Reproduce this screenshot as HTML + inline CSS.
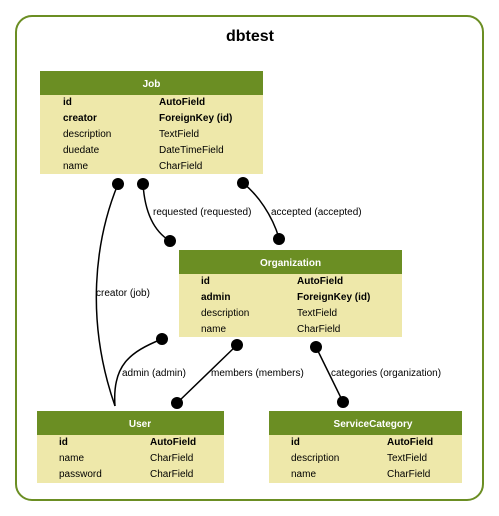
<!DOCTYPE html>
<html><head><meta charset="utf-8"><style>
html,body{margin:0;padding:0;background:#fff;}
svg{display:block;font-family:"Liberation Sans",Arial,sans-serif;}
.h{fill:#fff;font-weight:bold;font-size:10px;}
.t{font-size:10px;fill:#000;}
.b{font-weight:bold;}
.l{font-size:10px;fill:#000;}
</style></head><body>
<svg width="499" height="516" viewBox="0 0 499 516">
<rect x="16" y="16" width="467" height="484" rx="16" fill="#fff" stroke="#6b8e23" stroke-width="2"/>
<text x="250" y="41" text-anchor="middle" font-size="16" font-weight="bold">dbtest</text>

<!-- edges -->
<g fill="none" stroke="#000" stroke-width="1.5">
<path d="M118,184 C95,240 85,320 115,406"/>
<path d="M143,184 C145,215 155,232 170,241"/>
<path d="M243,183 C258,195 272,215 279,238"/>
<path d="M162,339 C130,352 112,365 115,406"/>
<path d="M237,345 L177,403"/>
<path d="M316,347 L343,402"/>
</g>
<g fill="#000">
<circle cx="118" cy="184" r="6"/><circle cx="143" cy="184" r="6"/><circle cx="243" cy="183" r="6"/>
<circle cx="170" cy="241" r="6"/><circle cx="279" cy="239" r="6"/>
<circle cx="162" cy="339" r="6"/><circle cx="237" cy="345" r="6"/><circle cx="316" cy="347" r="6"/>
<circle cx="177" cy="403" r="6"/><circle cx="343" cy="402" r="6"/>
</g>
<text class="l" x="96" y="296">creator (job)</text>
<text class="l" x="153" y="215">requested (requested)</text>
<text class="l" x="271" y="215">accepted (accepted)</text>
<text class="l" x="122" y="376">admin (admin)</text>
<text class="l" x="211" y="376">members (members)</text>
<text class="l" x="331" y="376">categories (organization)</text>

<!-- Job -->
<rect x="40" y="71" width="223" height="103" fill="#eee8aa"/>
<rect x="40" y="71" width="223" height="24" fill="#6b8e23"/>
<text class="h" x="151.5" y="87" text-anchor="middle">Job</text>
<text class="t b" x="63" y="105">id</text><text class="t b" x="159" y="105">AutoField</text>
<text class="t b" x="63" y="121">creator</text><text class="t b" x="159" y="121">ForeignKey (id)</text>
<text class="t" x="63" y="137">description</text><text class="t" x="159" y="137">TextField</text>
<text class="t" x="63" y="153">duedate</text><text class="t" x="159" y="153">DateTimeField</text>
<text class="t" x="63" y="169">name</text><text class="t" x="159" y="169">CharField</text>

<!-- Organization -->
<rect x="179" y="250" width="223" height="87" fill="#eee8aa"/>
<rect x="179" y="250" width="223" height="24" fill="#6b8e23"/>
<text class="h" x="290.5" y="266" text-anchor="middle">Organization</text>
<text class="t b" x="201" y="284">id</text><text class="t b" x="297" y="284">AutoField</text>
<text class="t b" x="201" y="300">admin</text><text class="t b" x="297" y="300">ForeignKey (id)</text>
<text class="t" x="201" y="316">description</text><text class="t" x="297" y="316">TextField</text>
<text class="t" x="201" y="332">name</text><text class="t" x="297" y="332">CharField</text>

<!-- User -->
<rect x="37" y="411" width="187" height="72" fill="#eee8aa"/>
<rect x="37" y="411" width="187" height="24" fill="#6b8e23"/>
<text class="h" x="140" y="427" text-anchor="middle">User</text>
<text class="t b" x="59" y="445">id</text><text class="t b" x="150" y="445">AutoField</text>
<text class="t" x="59" y="461">name</text><text class="t" x="150" y="461">CharField</text>
<text class="t" x="59" y="477">password</text><text class="t" x="150" y="477">CharField</text>

<!-- ServiceCategory -->
<rect x="269" y="411" width="193" height="72" fill="#eee8aa"/>
<rect x="269" y="411" width="193" height="24" fill="#6b8e23"/>
<text class="h" x="373" y="427" text-anchor="middle">ServiceCategory</text>
<text class="t b" x="291" y="445">id</text><text class="t b" x="387" y="445">AutoField</text>
<text class="t" x="291" y="461">description</text><text class="t" x="387" y="461">TextField</text>
<text class="t" x="291" y="477">name</text><text class="t" x="387" y="477">CharField</text>
</svg>
</body></html>
